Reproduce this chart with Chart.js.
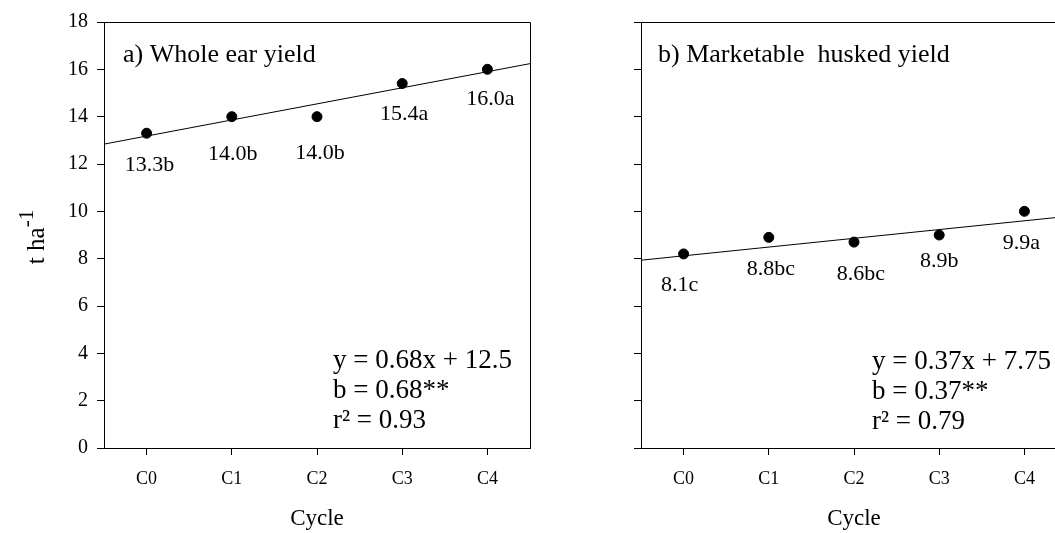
<!DOCTYPE html>
<html>
<head>
<meta charset="utf-8">
<script src="https://cdn.jsdelivr.net/npm/chart.js@4"></script>
<style>
  html, body { margin: 0; padding: 0; background: #fff; overflow: hidden; }
  body { width: 1055px; height: 533px; position: relative; }
  .panel { position: absolute; top: 0; width: 540px; height: 533px; }
  #panelA { left: 0; }
  #panelB { left: 537px; }
</style>
</head>
<body>
<div class="panel" id="panelA"><canvas id="chartA"></canvas></div>
<div class="panel" id="panelB"><canvas id="chartB"></canvas></div>
<script>
// cycles, plotted at x = 1..5
const cycles = ['C0', 'C1', 'C2', 'C3', 'C4'];
const cycleX = [1, 2, 3, 4, 5];
const yTicks = [0, 2, 4, 6, 8, 10, 12, 14, 16, 18];

// a) whole ear yield
const wholeEar = [13.3, 14.0, 14.0, 15.4, 16.0];
const wholeEarLabels = ['13.3b', '14.0b', '14.0b', '15.4a', '16.0a'];
const wholeEarFit = [0.68, 12.5]; // slope, intercept
const wholeEarStats = ['y = 0.68x + 12.5', 'b = 0.68**', 'r\u00b2 = 0.93'];

// b) marketable husked yield
const husked = [8.2, 8.9, 8.7, 9.0, 10.0];
const huskedLabels = ['8.1c', '8.8bc', '8.6bc', '8.9b', '9.9a'];
const huskedFit = [0.37, 7.75];
const huskedStats = ['y = 0.37x + 7.75', 'b = 0.37**', 'r\u00b2 = 0.79'];

const serif = "'Liberation Serif', 'Times New Roman', serif";

// draws box, point labels, panel title and regression text
const annotate = {
    id: 'annotate',
    afterDatasetsDraw(chart, args, opts) {
        const ctx = chart.ctx;
        const area = chart.chartArea;
        const xs = chart.scales.x, ys = chart.scales.y;
        ctx.save();
        ctx.strokeStyle = '#000';
        ctx.lineWidth = 1;
        ctx.beginPath();
        ctx.moveTo(area.left, area.top + 0.5);
        ctx.lineTo(area.right + 0.5, area.top + 0.5);
        ctx.lineTo(area.right + 0.5, area.bottom);
        ctx.stroke();

        ctx.fillStyle = '#000';
        ctx.textBaseline = 'alphabetic';
        ctx.textAlign = 'center';
        ctx.font = '22px ' + serif;
        opts.labels.forEach((t, i) => {
            const px = xs.getPixelForValue(cycleX[i]) + opts.dx[i];
            const py = ys.getPixelForValue(opts.values[i]) + opts.dy[i];
            ctx.fillText(t, px, py);
        });

        ctx.textAlign = 'left';
        ctx.font = '26px ' + serif;
        ctx.fillText(opts.title, area.left + opts.titleX, area.top + 40);
        ctx.font = '27px ' + serif;
        opts.stats.forEach((t, i) => {
            ctx.fillText(t, area.left + opts.statsX, opts.statsY + i * 30);
        });

        if (opts.yTitle) {
            ctx.translate(37, 237);
            ctx.rotate(-Math.PI / 2);
            ctx.font = '25px ' + serif;
            const w1 = ctx.measureText('t ha').width;
            ctx.font = '21px ' + serif;
            const w2 = ctx.measureText('-1').width;
            const x0 = -(w1 + w2) / 2;
            ctx.font = '25px ' + serif;
            ctx.fillText('t ha', x0, 7);
            ctx.font = '21px ' + serif;
            ctx.fillText('-1', x0 + w1, -4);
        }
        ctx.restore();
    }
};

function makePanel(id, values, fit, labels, stats, title, extra) {
    const points = values.map((v, i) => ({ x: cycleX[i], y: v }));
    const lineX = [0.5, 5.5];
    const line = lineX.map(x => ({ x: x, y: fit[0] * x + fit[1] }));
    new Chart(document.getElementById(id).getContext('2d'), {
        type: 'scatter',
        data: {
            datasets: [{
                data: line,
                showLine: true,
                borderColor: '#000',
                borderWidth: 1,
                pointRadius: 0,
                fill: false
            }, {
                data: points,
                backgroundColor: '#000',
                borderColor: '#000',
                pointRadius: 5,
                pointHoverRadius: 5
            }]
        },
        options: {
            responsive: true,
            maintainAspectRatio: false,
            animation: false,
            events: [],
            layout: { padding: { top: 22, right: 10, left: 0, bottom: 0 } },
            plugins: {
                legend: { display: false },
                tooltip: { enabled: false },
                annotate: Object.assign({
                    values: values,
                    labels: labels,
                    stats: stats,
                    title: title
                }, extra)
            },
            scales: {
                x: {
                    type: 'linear',
                    min: 0.5,
                    max: 5.5,
                    afterBuildTicks: s => { s.ticks = cycleX.map(v => ({ value: v })); },
                    afterFit: s => { s.height = 85; },
                    ticks: {
                        color: '#000',
                        padding: 13,
                        font: { family: serif, size: 18 },
                        callback: (v) => cycles[cycleX.indexOf(v)]
                    },
                    grid: { display: true, drawOnChartArea: false, drawTicks: true, tickLength: 7, color: '#000' },
                    border: { display: true, color: '#000', width: 1 },
                    title: {
                        display: true,
                        text: 'Cycle',
                        color: '#000',
                        font: { family: serif, size: 23 },
                        padding: { top: 0, bottom: 0 }
                    }
                },
                y: {
                    min: 0,
                    max: 18,
                    afterBuildTicks: s => { s.ticks = yTicks.map(v => ({ value: v })); },
                    afterFit: s => { s.width = 104; },
                    ticks: {
                        display: extra.showY,
                        color: '#000',
                        padding: 9,
                        font: { family: serif, size: 20 }
                    },
                    grid: { display: true, drawOnChartArea: false, drawTicks: true, tickLength: 7, color: '#000' },
                    border: { display: true, color: '#000', width: 1 }
                }
            }
        },
        plugins: [annotate]
    });
}

makePanel('chartA', wholeEar, wholeEarFit, wholeEarLabels, wholeEarStats, 'a) Whole ear yield', {
    showY: true, yTitle: true,
    dx: [3, 1, 3, 2, 3], dy: [38, 43, 42, 36, 36],
    titleX: 19, statsX: 229, statsY: 368
});
makePanel('chartB', husked, huskedFit, huskedLabels, huskedStats, 'b) Marketable  husked yield', {
    showY: false, yTitle: false,
    dx: [-4, 2, 7, 0, -3], dy: [37, 38, 38, 32, 38],
    titleX: 17, statsX: 231, statsY: 369
});
</script>
</body>
</html>
